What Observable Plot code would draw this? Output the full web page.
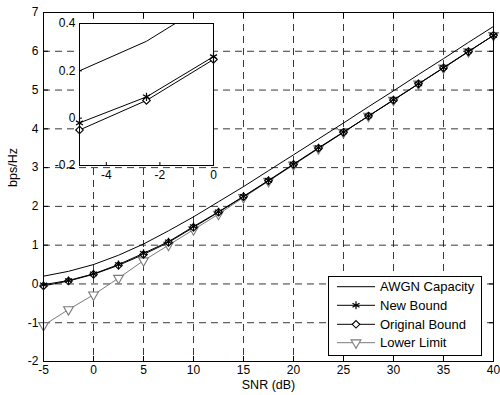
<!DOCTYPE html>
<html><head><meta charset="utf-8">
<script src="https://cdn.jsdelivr.net/npm/d3@7"></script>
<script src="https://cdn.jsdelivr.net/npm/@observablehq/plot@0.6"></script>
<style>
body{margin:0;background:#fff;}
#wrap{position:relative;width:500px;height:395px;font-family:"Liberation Sans",Arial,sans-serif;}
#inset{position:absolute;left:47px;top:19px;}
#legend{position:absolute;left:328px;top:276px;}
</style>
</head><body>
<div id="wrap"><div id="main"></div><div id="inset"></div><div id="legend"></div></div>
<script>
const snr = [-5,-2.5,0,2.5,5,7.5,10,12.5,15,17.5,20,22.5,25,27.5,30,32.5,35,37.5,40];
const awgnCapacity = [0.20,0.325,0.50,0.74,1.03,1.37,1.73,2.12,2.51,2.92,3.33,3.74,4.15,4.57,4.98,5.40,5.81,6.23,6.64];
const newBound     = [-0.02,0.09,0.26,0.50,0.79,1.09,1.48,1.86,2.26,2.67,3.09,3.51,3.92,4.33,4.75,5.16,5.58,6.00,6.41];
const originalBound= [-0.05,0.075,0.248,0.48,0.76,1.07,1.46,1.85,2.25,2.66,3.08,3.50,3.91,4.33,4.74,5.16,5.57,5.99,6.41];
const lowerLimit   = [-1.07,-0.66,-0.28,0.15,0.60,1.00,1.40,1.80,2.23,2.65,3.07,3.49,3.91,4.33,4.74,5.16,5.57,5.99,6.41];
const xTicks = [-5,0,5,10,15,20,25,30,35,40];
const yTicks = [-2,-1,0,1,2,3,4,5,6,7];
const insetXTicks = [-4,-2,0];
const insetYTicks = [-0.2,0,0.2,0.4];
const legendLabels = ["AWGN Capacity","New Bound","Original Bound","Lower Limit"];

const rows = snr.map((x,i)=>({x, awgn:awgnCapacity[i], nb:newBound[i], ob:originalBound[i], ll:lowerLimit[i]}));
const fmt = d => String(+(+d).toFixed(1));
const blank = () => "";
const GRAY = "#7a7a7a";
const gridStyle = {stroke:"#222", strokeOpacity:1, strokeDasharray:"7,5", strokeWidth:0.9};

function seriesMarks(clip, xd, yd){
  const keep = key => (xd ? (d => d.x >= xd[0] && d.x <= xd[1] && d[key] >= yd[0] && d[key] <= yd[1]) : undefined);
  return [
    Plot.line(rows,{x:"x",y:"awgn",stroke:"#000",strokeWidth:1,clip}),
    Plot.line(rows,{x:"x",y:"ll",stroke:GRAY,strokeWidth:1,clip}),
    Plot.dot(rows,{x:"x",y:"ll",filter:keep("ll"),symbol:"triangle",rotate:180,r:3.6,stroke:GRAY,fill:"white",strokeWidth:1.1}),
    Plot.line(rows,{x:"x",y:"ob",stroke:"#000",strokeWidth:1,clip}),
    Plot.dot(rows,{x:"x",y:"ob",filter:keep("ob"),symbol:"diamond2",r:3.4,stroke:"#000",fill:"white",strokeWidth:1.1}),
    Plot.line(rows,{x:"x",y:"nb",stroke:"#000",strokeWidth:1,clip}),
    Plot.dot(rows,{x:"x",y:"nb",filter:keep("nb"),symbol:"asterisk",r:3.8,stroke:"#000",strokeWidth:1.2})
  ];
}

const main = Plot.plot({
  width:500, height:395,
  marginLeft:43, marginRight:7, marginTop:12, marginBottom:34,
  x:{domain:[-5,40]}, y:{domain:[-2,7]},
  style:{fontFamily:"Liberation Sans, Arial, sans-serif", fontSize:"12px", background:"white", color:"#000"},
  marks:[
    Plot.gridX(xTicks, gridStyle),
    Plot.gridY(yTicks, gridStyle),
    Plot.axisX(xTicks,{anchor:"bottom",tickSize:0,tickPadding:4,tickFormat:fmt,label:null}),
    Plot.axisY(yTicks,{anchor:"left",tickSize:0,tickPadding:5,tickFormat:fmt,label:null}),
    Plot.axisX(xTicks,{anchor:"bottom",tickSize:-5,tickFormat:blank,label:null}),
    Plot.axisX(xTicks,{anchor:"top",tickSize:-5,tickFormat:blank,label:null}),
    Plot.axisY(yTicks,{anchor:"left",tickSize:-5,tickFormat:blank,label:null}),
    Plot.axisY(yTicks,{anchor:"right",tickSize:-5,tickFormat:blank,label:null}),
    ...seriesMarks(false),
    Plot.frame({stroke:"#000"}),
    Plot.text(["SNR (dB)"],{frameAnchor:"bottom",dy:27,text:d=>d,fontSize:12.5}),
    Plot.text(["bps/Hz"],{frameAnchor:"left",dx:-31,rotate:-90,text:d=>d,fontSize:12.5})
  ]
});
document.getElementById("main").appendChild(main);

const insetX = [-5,0], insetY = [-0.2,0.4];
const inset = Plot.plot({
  width:170, height:168,
  marginLeft:32, marginRight:4, marginTop:4, marginBottom:22,
  x:{domain:insetX}, y:{domain:insetY},
  style:{fontFamily:"Liberation Sans, Arial, sans-serif", fontSize:"12px", background:"transparent", color:"#000", overflow:"visible"},
  marks:[
    Plot.frame({fill:"white", stroke:"#000"}),
    Plot.axisX(insetXTicks,{anchor:"bottom",tickSize:0,tickPadding:5,tickFormat:fmt,label:null}),
    Plot.axisY(insetYTicks,{anchor:"left",tickSize:0,tickPadding:4,tickFormat:fmt,label:null}),
    Plot.axisX(insetXTicks,{anchor:"bottom",tickSize:-3,tickFormat:blank,label:null}),
    Plot.axisY(insetYTicks,{anchor:"left",tickSize:-3,tickFormat:blank,label:null}),
    ...seriesMarks(true, insetX, insetY),
    Plot.frame({stroke:"#000"})
  ]
});
document.getElementById("inset").appendChild(inset);

// legend
const W = 154, H = 80;
const svg = d3.select("#legend").append("svg").attr("width",W).attr("height",H)
  .style("font-family","Liberation Sans, Arial, sans-serif");
svg.append("rect").attr("x",0.5).attr("y",0.5).attr("width",W-1).attr("height",H-1).attr("fill","white").attr("stroke","#000");
const specs = [
  {stroke:"#000", sym:null},
  {stroke:"#000", sym:d3.symbolAsterisk, r:3.8, fill:"none", sw:1.2},
  {stroke:"#000", sym:d3.symbolDiamond2, r:3.4, fill:"white", sw:1.1},
  {stroke:GRAY, sym:d3.symbolTriangle, r:3.6, fill:"white", rot:180, sw:1.1}
];
const rowY = [10.7, 29.3, 48.3, 66.7];
legendLabels.forEach((lab,i)=>{
  const s = specs[i], y = rowY[i];
  svg.append("line").attr("x1",9).attr("x2",47).attr("y1",y).attr("y2",y).attr("stroke",s.stroke);
  if (s.sym) {
    svg.append("path").attr("d", d3.symbol(s.sym, Math.PI*s.r*s.r)())
      .attr("transform",`translate(28,${y})${s.rot?` rotate(${s.rot})`:""}`)
      .attr("fill",s.fill).attr("stroke",s.stroke).attr("stroke-width",s.sw);
  }
  svg.append("text").attr("x",52).attr("y",y).attr("dy","0.35em").attr("font-size",13).text(lab);
});
</script>
</body></html>
